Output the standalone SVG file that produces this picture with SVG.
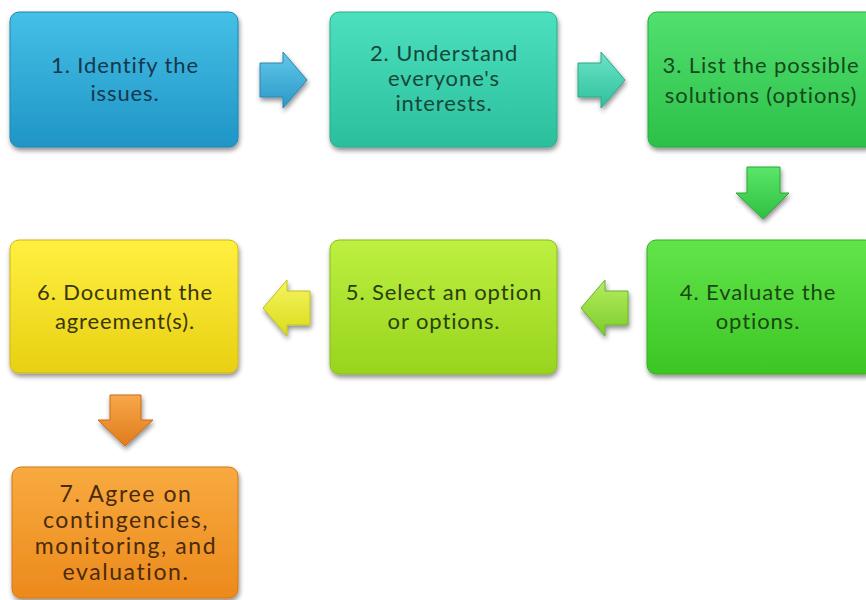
<svg xmlns="http://www.w3.org/2000/svg" width="866" height="600" viewBox="0 0 866 600">
  <defs>
    <filter id="shadow" x="-10%" y="-10%" width="125%" height="130%">
      <feGaussianBlur in="SourceAlpha" stdDeviation="2.5"/>
      <feOffset dx="1" dy="3" result="b"/>
      <feComponentTransfer><feFuncA type="linear" slope="0.45"/></feComponentTransfer>
      <feMerge><feMergeNode/><feMergeNode in="SourceGraphic"/></feMerge>
    </filter>
    <linearGradient id="g1" x1="0" y1="0" x2="0" y2="1">
      <stop offset="0" stop-color="#45c0e6"/><stop offset="1" stop-color="#1f95c6"/>
    </linearGradient>
    <linearGradient id="g2" x1="0" y1="0" x2="0" y2="1">
      <stop offset="0" stop-color="#4ce0bf"/><stop offset="1" stop-color="#2bbf9c"/>
    </linearGradient>
    <linearGradient id="g3" x1="0" y1="0" x2="0" y2="1">
      <stop offset="0" stop-color="#52e070"/><stop offset="1" stop-color="#2cc048"/>
    </linearGradient>
    <linearGradient id="g4" x1="0" y1="0" x2="0" y2="1">
      <stop offset="0" stop-color="#62e44a"/><stop offset="1" stop-color="#3cc624"/>
    </linearGradient>
    <linearGradient id="g5" x1="0" y1="0" x2="0" y2="1">
      <stop offset="0" stop-color="#bdf040"/><stop offset="1" stop-color="#98d41e"/>
    </linearGradient>
    <linearGradient id="g6" x1="0" y1="0" x2="0" y2="1">
      <stop offset="0" stop-color="#fff040"/><stop offset="1" stop-color="#e8d012"/>
    </linearGradient>
    <linearGradient id="g7" x1="0" y1="0" x2="0" y2="1">
      <stop offset="0" stop-color="#f8aa40"/><stop offset="1" stop-color="#ec8a1c"/>
    </linearGradient>
    <linearGradient id="ga1" x1="0" y1="0" x2="0" y2="1">
      <stop offset="0" stop-color="#62c8ea"/><stop offset="1" stop-color="#2a98c8"/>
    </linearGradient>
    <linearGradient id="ga2" x1="0" y1="0" x2="0" y2="1">
      <stop offset="0" stop-color="#6ae4c6"/><stop offset="1" stop-color="#30c09c"/>
    </linearGradient>
    <linearGradient id="ga3" x1="0" y1="0" x2="0" y2="1">
      <stop offset="0" stop-color="#5ae66a"/><stop offset="1" stop-color="#30c040"/>
    </linearGradient>
    <linearGradient id="ga4" x1="0" y1="0" x2="0" y2="1">
      <stop offset="0" stop-color="#b4ee60"/><stop offset="1" stop-color="#7ccc2a"/>
    </linearGradient>
    <linearGradient id="ga5" x1="0" y1="0" x2="0" y2="1">
      <stop offset="0" stop-color="#f6f460"/><stop offset="1" stop-color="#d8dc1c"/>
    </linearGradient>
    <linearGradient id="ga6" x1="0" y1="0" x2="0" y2="1">
      <stop offset="0" stop-color="#f8a84a"/><stop offset="1" stop-color="#e07c1c"/>
    </linearGradient>
  </defs>
  <style>
    .box { filter: url(#shadow); stroke-width: 1; }
    .arrow { filter: url(#shadow); stroke-width: 1; }
    text { font-family: Lato, "Open Sans", "Liberation Sans", sans-serif; font-size: 22px; letter-spacing: 0.9px; text-anchor: middle; }
    text.wide { font-size: 23px; letter-spacing: 1.6px; }
  </style>
  <rect width="866" height="600" fill="#ffffff"/>

  <g id="connectors">
    <!-- 1 to 2 -->
    <path class="arrow" d="M260,63 H283 V52 L307,80 L283,108 V97 H260 Z" fill="url(#ga1)" stroke="#2a86b0"/>
    <!-- 2 to 3 -->
    <path class="arrow" d="M578,63 H601 V52 L625,80 L601,108 V97 H578 Z" fill="url(#ga2)" stroke="#2aa888"/>
    <!-- 3 to 4 -->
    <path class="arrow" d="M747,167 H780 V193 H789 L763,219 L736,193 H747 Z" fill="url(#ga3)" stroke="#2aa838"/>
    <!-- 4 to 5 -->
    <path class="arrow" d="M628,291 H605 V280 L581,308 L605,336 V325 H628 Z" fill="url(#ga4)" stroke="#6cb02a"/>
    <!-- 5 to 6 -->
    <path class="arrow" d="M310,291 H287 V280 L263,308 L287,336 V325 H310 Z" fill="url(#ga5)" stroke="#c0c020"/>
    <!-- 6 to 7 -->
    <path class="arrow" d="M110,395 H141 V420 H153 L125,446 L98,420 H110 Z" fill="url(#ga6)" stroke="#c86c18"/>
  </g>

  <g id="node1">
    <rect class="box" x="10" y="12" width="228" height="135" rx="9" fill="url(#g1)" stroke="#1a86b4"/>
    <text fill="#15384c"><tspan x="125" y="73">1. Identify the</tspan><tspan x="125" y="101">issues.</tspan></text>
  </g>
  <g id="node2">
    <rect class="box" x="330" y="12" width="227" height="135" rx="9" fill="url(#g2)" stroke="#26ac8c"/>
    <text fill="#16483a"><tspan x="444" y="61">2. Understand</tspan><tspan x="444" y="86">everyone's</tspan><tspan x="444" y="111">interests.</tspan></text>
  </g>
  <g id="node3">
    <rect class="box" x="648" y="12" width="227" height="135" rx="9" fill="url(#g3)" stroke="#26ac40"/>
    <text fill="#16481e"><tspan x="761" y="73">3. List the possible</tspan><tspan x="761" y="103">solutions (options)</tspan></text>
  </g>
  <g id="node4">
    <rect class="box" x="647" y="240" width="227" height="134" rx="9" fill="url(#g4)" stroke="#36b020"/>
    <text fill="#1a4812"><tspan x="758" y="300">4. Evaluate the</tspan><tspan x="758" y="329">options.</tspan></text>
  </g>
  <g id="node5">
    <rect class="box" x="330" y="240" width="227" height="134" rx="9" fill="url(#g5)" stroke="#88bc1c"/>
    <text fill="#2a400c"><tspan x="444" y="300">5. Select an option</tspan><tspan x="444" y="329">or options.</tspan></text>
  </g>
  <g id="node6">
    <rect class="box" x="10" y="240" width="228" height="133" rx="9" fill="url(#g6)" stroke="#ccb810"/>
    <text fill="#3a360c"><tspan x="125" y="300">6. Document the</tspan><tspan x="125" y="329">agreement(s).</tspan></text>
  </g>
  <g id="node7">
    <rect class="box" x="12" y="467" width="226" height="131" rx="9" fill="url(#g7)" stroke="#d07818"/>
    <text class="wide" fill="#4a2a0c"><tspan x="126" y="502">7. Agree on</tspan><tspan x="126" y="528">contingencies,</tspan><tspan x="126" y="554">monitoring, and</tspan><tspan x="126" y="580">evaluation.</tspan></text>
  </g>
</svg>
